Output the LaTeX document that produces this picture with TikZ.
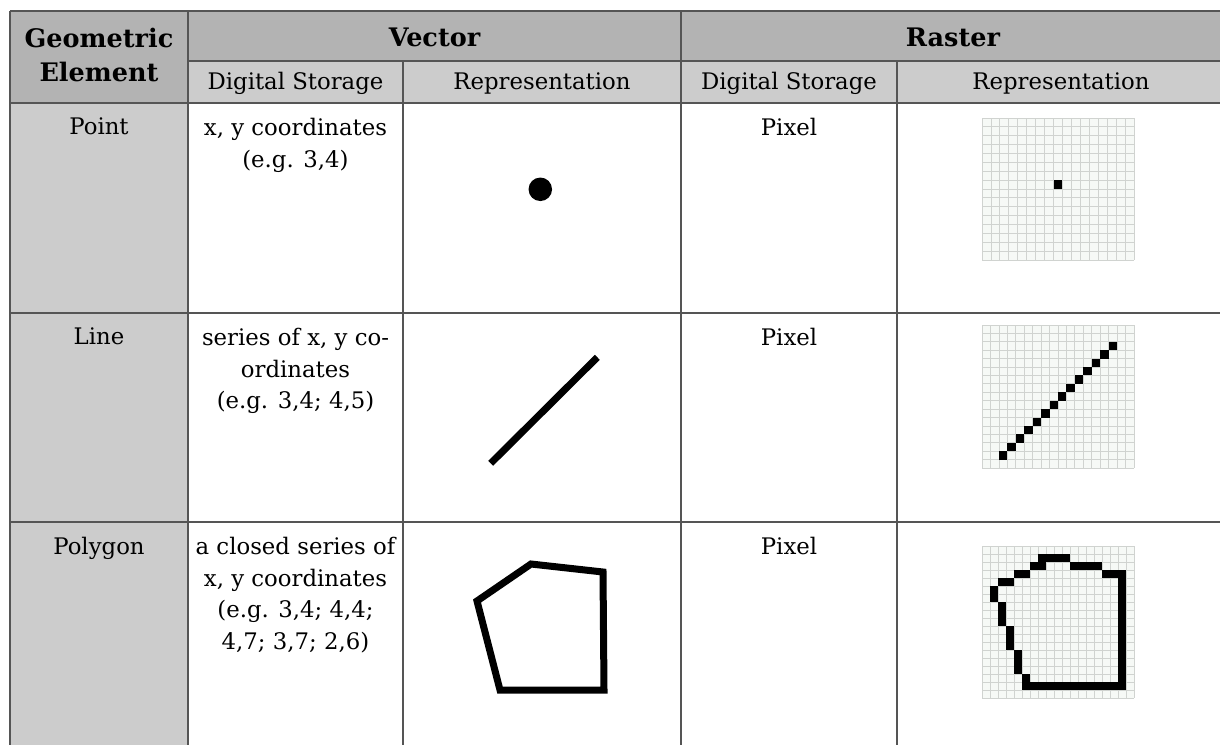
\documentclass[tikz,border=0pt]{standalone}
\usepackage{fontspec}
\setmainfont{DejaVu Serif}
\definecolor{hdark}{HTML}{B3B3B3}
\definecolor{hlight}{HTML}{CCCCCC}
\definecolor{rulec}{HTML}{555555}
\definecolor{gridbg}{HTML}{F6F9F6}
\definecolor{gridln}{HTML}{D0D3D0}
\tikzset{
  rulel/.style={draw=rulec, line width=1.4pt},
  txt/.style={inner sep=0pt, align=center, font=\fontsize{22.8}{31.5}\selectfont},
  hd/.style={txt, font=\fontsize{25.5}{34}\selectfont\bfseries},
  celltxt/.style={txt, anchor=north},
  gline/.style={draw=gridln, line width=0.8pt},
  px/.style={fill=black},
  vecshape/.style={draw=black, line width=7pt},
}
\begin{document}
\begin{tikzpicture}[x=1pt, y=-1pt]
\useasboundingbox (0,0) rectangle (1220,744);
% backgrounds
\fill[hdark] (10,11) rectangle (1225,61);
\fill[hdark] (10,11) rectangle (188,103);
\fill[hlight] (188,61) rectangle (1225,103);
\fill[hlight] (10,103) rectangle (188,760);
% rules
\draw[rulel] (10,11) -- (1225,11);
\draw[rulel] (188,61) -- (1225,61);
\draw[rulel] (10,103) -- (1225,103);
\draw[rulel] (10,313) -- (1225,313);
\draw[rulel] (10,522) -- (1225,522);
\draw[rulel] (10,11) -- (10,760);
\draw[rulel] (188,11) -- (188,760);
\draw[rulel] (681,11) -- (681,760);
\draw[rulel] (403,61) -- (403,760);
\draw[rulel] (897,61) -- (897,760);
% header text
\node[hd] (geo) at (99,55) {Geometric\\Element};
\node[hd] (vec) at (434.5,37) {Vector};
\node[hd] (ras) at (953,37) {Raster};
\node[txt] (vds) at (295.5,83) {Digital Storage};
\node[txt] (vrep) at (542,83) {Representation};
\node[txt] (rds) at (789,83) {Digital Storage};
\node[txt] (rrep) at (1061,83) {Representation};
% body text
\node[celltxt] (pt) at (99,118) {Point};
\node[celltxt] (ptds) at (295.5,118) {x, y coordinates\\(e.g. 3,4)};
\node[celltxt] (ptpx) at (789,118) {Pixel};
\node[celltxt] (ln) at (99,328) {Line};
\node[celltxt] (lnds) at (295.5,328) {series of x, y co-\\ordinates\\(e.g. 3,4; 4,5)};
\node[celltxt] (lnpx) at (789,328) {Pixel};
\node[celltxt] (pg) at (99,537) {Polygon};
\node[celltxt] (pgds) at (295.5,537) {a closed series of\\x, y coordinates\\(e.g. 3,4; 4,4;\\4,7; 3,7; 2,6)};
\node[celltxt] (pgpx) at (789,537) {Pixel};
% vector shapes
\node[circle, fill=black, minimum size=23.5pt, inner sep=0pt] (dot) at (540.3,189.3) {};
\coordinate (la) at (490.7,463.3);
\coordinate (lb) at (597.3,357.3);
\draw[vecshape] (la) -- (lb);
\coordinate (p1) at (477,601);
\coordinate (p2) at (531,564);
\coordinate (p3) at (603,572);
\coordinate (p4) at (604,690);
\coordinate (p5) at (500,690);
\draw[vecshape] (p1) -- (p2) -- (p3) -- (p4) -- (p5) -- cycle;
% raster: point grid 17x16
\begin{scope}[shift={(982,118)}, x=8.941pt, y=-8.875pt]
  \fill[gridbg] (0,0) rectangle (17,16);
  \foreach \i in {0,...,17} \draw[gline] (\i,0) -- (\i,16);
  \foreach \j in {0,...,16} \draw[gline] (0,\j) -- (17,\j);
  \fill[px] (8,7) rectangle ++(1,1);
\end{scope}
% raster: line grid 18x17
\begin{scope}[shift={(982,325)}, x=8.444pt, y=-8.412pt]
  \fill[gridbg] (0,0) rectangle (18,17);
  \foreach \i in {0,...,18} \draw[gline] (\i,0) -- (\i,17);
  \foreach \j in {0,...,17} \draw[gline] (0,\j) -- (18,\j);
  \foreach \k in {0,...,13} \fill[px] ({2+\k},{15-\k}) rectangle ++(1,1);
\end{scope}
% raster: polygon grid 19x19
\begin{scope}[shift={(982,546)}, x=8pt, y=-8pt]
  \fill[gridbg] (0,0) rectangle (19,19);
  \foreach \i in {0,...,19} \draw[gline] (\i,0) -- (\i,19);
  \foreach \j in {0,...,19} \draw[gline] (0,\j) -- (19,\j);
  \foreach \c/\r in {7/1,8/1,9/1,10/1,
    6/2,7/2,11/2,12/2,13/2,14/2,
    4/3,5/3,15/3,16/3,
    2/4,3/4,1/5,1/6,2/7,2/8,2/9,3/10,3/11,3/12,4/13,4/14,4/15,5/16}
    \fill[px] (\c,\r) rectangle ++(1,1);
  \foreach \r in {3,...,17} \fill[px] (17,\r) rectangle ++(1,1);
  \foreach \c in {5,...,16} \fill[px] (\c,17) rectangle ++(1,1);
\end{scope}
\end{tikzpicture}
\end{document}
